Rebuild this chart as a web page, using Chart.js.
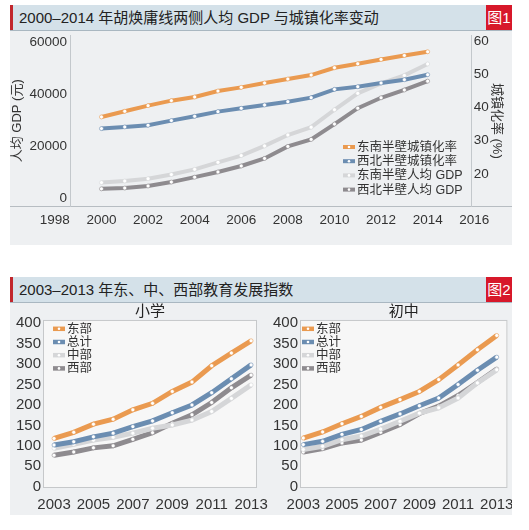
<!DOCTYPE html>
<html>
<head>
<meta charset="utf-8">
<script src="https://cdn.jsdelivr.net/npm/chart.js@4.4.1/dist/chart.umd.min.js"></script>
<style>
  body { margin: 0; background: #fff; font-family: "Liberation Sans", "Noto Sans CJK SC", sans-serif; }
  .panel { position: absolute; left: 10px; width: 502px; background: #eef0f2; }
  .head { position: absolute; left: 0; top: 0; width: 502px; height: 25px; background: #d4e1e9; border-bottom: 1px solid #a9b7c1; }
  .head .bar { position: absolute; left: 0; top: 0; width: 3px; height: 25px; background: #c1272d; }
  .head .t { position: absolute; left: 9px; top: 3px; font-size: 15px; line-height: 19px; color: #222; white-space: nowrap; }
  .head .tag { position: absolute; right: 0; top: 0; width: 26px; height: 25px; background: #d7182a; color: #fff; font-size: 15px; line-height: 25px; text-align: center; }
  canvas { position: absolute; }
</style>
</head>
<body>

<div class="panel" style="top:5px;height:240px;">
  <div class="head"><div class="bar"></div><div class="t">2000–2014 年胡焕庸线两侧人均 GDP 与城镇化率变动</div><div class="tag">图1</div></div>
  <canvas id="c1" style="left:0;top:26px;width:502px;height:214px;"></canvas>
</div>

<div class="panel" style="top:277px;height:238px;">
  <div class="head"><div class="bar"></div><div class="t">2003–2013 年东、中、西部教育发展指数</div><div class="tag">图2</div></div>
  <canvas id="c2" style="left:0;top:26px;width:262px;height:212px;"></canvas>
  <canvas id="c3" style="left:252px;top:26px;width:250px;height:212px;"></canvas>
</div>

<script>
// ---- figure 1 data ----
const years1 = [2000, 2001, 2002, 2003, 2004, 2005, 2006, 2007, 2008, 2009, 2010, 2011, 2012, 2013, 2014];
const yearTicks1 = [1998, 2000, 2002, 2004, 2006, 2008, 2010, 2012, 2014, 2016];
const gdpTicks = [0, 20000, 40000, 60000];
const urbanTicks = [20, 30, 40, 50, 60];
const seUrban = [37.1, 38.8, 40.5, 42.0, 43.1, 44.9, 46.0, 47.3, 48.5, 49.7, 51.9, 53.1, 54.4, 55.6, 56.7];
const nwUrban = [33.6, 34.1, 34.6, 36.0, 37.3, 38.7, 39.7, 40.7, 41.7, 42.9, 45.4, 46.2, 47.3, 48.3, 49.8];
const seGdp = [6000, 6600, 7500, 9100, 11100, 13800, 16400, 20100, 24300, 27300, 34000, 40300, 44100, 47200, 51600];
const nwGdp = [3600, 3900, 4700, 6200, 8100, 10100, 12400, 15300, 19900, 22600, 28500, 34600, 38600, 41600, 45000];

// ---- figure 2 data ----
const years2 = [2003, 2004, 2005, 2006, 2007, 2008, 2009, 2010, 2011, 2012, 2013];
const yearTicks2 = [2003, 2005, 2007, 2009, 2011, 2013];
const indexTicks = [0, 50, 100, 150, 200, 250, 300, 350, 400];
const primEast = [118, 133, 153, 165, 188, 204, 233, 256, 296, 327, 357];
const primTotal = [102, 110, 122, 131, 147, 161, 181, 200, 230, 264, 298];
const primCentral = [94, 104, 114, 121, 131, 143, 151, 163, 184, 216, 249];
const primWest = [77, 85, 95, 100, 116, 132, 155, 176, 206, 242, 273];
const midEast = [119, 134, 154, 172, 194, 213, 233, 262, 298, 335, 370];
const midTotal = [103, 111, 128, 140, 160, 178, 198, 217, 250, 285, 317];
const midCentral = [91, 99, 115, 124, 141, 160, 180, 193, 217, 254, 286];
const midWest = [85, 93, 107, 114, 133, 152, 179, 197, 223, 255, 288];

const ORANGE = '#ea9a50', BLUE = '#6b8db1', LIGHT = '#d5d6d8', DARK = '#8e8b8f';
const FONT = '"Liberation Sans", "Noto Sans CJK SC", sans-serif';

Chart.defaults.font.family = FONT;
Chart.defaults.color = '#333';
Chart.defaults.animation = false;

function pts(xs, ys) { return xs.map((x, i) => ({ x: x, y: ys[i] })); }
function setTicks(arr) { return s => { s.ticks = arr.map(v => ({ value: v })); }; }
function fixW(w) { return s => { s.width = w; s.paddingTop = 0; s.paddingBottom = 0; }; }
function fixH(h) { return s => { s.height = h; s.paddingLeft = 0; s.paddingRight = 0; }; }

function line(label, color, xs, ys, axis, w) {
  return {
    label: label, data: pts(xs, ys), yAxisID: axis,
    borderColor: color, backgroundColor: color, borderWidth: w,
    pointRadius: 2, pointBackgroundColor: '#fff', pointBorderColor: color, pointBorderWidth: 0.6,
    tension: 0
  };
}

// legend drawn inside the plot
const boxLegend = {
  id: 'boxLegend',
  afterDraw(chart, args, o) {
    const ctx = chart.ctx;
    ctx.save();
    ctx.font = o.size + 'px ' + FONT;
    ctx.textBaseline = 'middle';
    chart.data.datasets.forEach((ds, i) => {
      const y = o.y + i * o.step;
      ctx.strokeStyle = ds.borderColor;
      ctx.lineWidth = o.lw;
      ctx.beginPath(); ctx.moveTo(o.x, y); ctx.lineTo(o.x + o.len, y); ctx.stroke();
      ctx.fillStyle = '#fff';
      ctx.beginPath(); ctx.arc(o.x + o.len / 2, y, 1.3, 0, Math.PI * 2); ctx.fill();
      ctx.fillStyle = '#333';
      ctx.fillText(ds.label, o.x + o.len + 2, y + 0.5);
    });
    ctx.restore();
  }
};

// figure 1: baseline across the whole panel
const baseLine = {
  id: 'baseLine',
  beforeDraw(chart) {
    const ctx = chart.ctx, a = chart.chartArea;
    ctx.save();
    ctx.strokeStyle = '#b7bdc2';
    ctx.lineWidth = 1;
    ctx.beginPath(); ctx.moveTo(0, a.bottom + 0.5); ctx.lineTo(chart.width, a.bottom + 0.5); ctx.stroke();
    ctx.restore();
  }
};

// figure 2: light plot box
const plotBox = {
  id: 'plotBox',
  beforeDraw(chart) {
    const ctx = chart.ctx, a = chart.chartArea;
    ctx.save();
    ctx.fillStyle = '#f7f7f7';
    ctx.fillRect(a.left, a.top, a.width, a.height);
    ctx.strokeStyle = '#c6c8ca';
    ctx.lineWidth = 1;
    ctx.strokeRect(a.left + 0.5, a.top + 0.5, a.width - 1, a.height - 1);
    ctx.restore();
  }
};

new Chart(document.getElementById('c1'), {
  type: 'line',
  data: {
    datasets: [
      line('东南半壁城镇化率', ORANGE, years1, seUrban, 'yR', 4),
      line('西北半壁城镇化率', BLUE, years1, nwUrban, 'yR', 4),
      line('东南半壁人均 GDP', LIGHT, years1, seGdp, 'yL', 4),
      line('西北半壁人均 GDP', DARK, years1, nwGdp, 'yL', 4)
    ]
  },
  plugins: [baseLine, boxLegend],
  options: {
    responsive: false,
    layout: { padding: { top: 2, left: 0, right: 0, bottom: 0 } },
    plugins: {
      legend: { display: false },
      tooltip: { enabled: false },
      boxLegend: { x: 333, y: 116, step: 14.2, len: 12, lw: 4, size: 12.5 }
    },
    scales: {
      x: {
        type: 'linear', min: 1998.65, max: 2015.89,
        afterBuildTicks: setTicks(yearTicks1), afterFit: fixH(39),
        grid: { display: false, drawTicks: false }, border: { display: false },
        ticks: { autoSkip: false, padding: 6, font: { size: 13.5 }, color: '#333', callback: v => String(v) }
      },
      yL: {
        position: 'left', min: -2990, max: 62500,
        afterBuildTicks: setTicks(gdpTicks), afterFit: fixW(60),
        grid: { display: false, drawTicks: false }, border: { color: '#c3c8cc' },
        ticks: { padding: 3, font: { size: 13.5 }, color: '#333', callback: v => String(v) },
        title: { display: true, text: '人均 GDP (元)', font: { size: 13 }, color: '#333', padding: 0 }
      },
      yR: {
        position: 'right', min: 10.31, max: 61.57,
        afterBuildTicks: setTicks(urbanTicks), afterFit: fixW(40.3),
        grid: { display: false, drawTicks: false }, border: { color: '#c3c8cc' },
        ticks: { padding: 2, font: { size: 13.5 }, color: '#333', callback: v => String(v) },
        title: { display: true, text: '城镇化率 (%)', font: { size: 13 }, color: '#333', padding: { top: 8, bottom: 0 } }
      }
    }
  }
});

function eduChart(id, title, east, total, central, west, xmin, xmax, yAxisW, padRight, legendX) {
  return new Chart(document.getElementById(id), {
    type: 'line',
    data: {
      datasets: [
        line('东部', ORANGE, years2, east, 'y', 5),
        line('总计', BLUE, years2, total, 'y', 5),
        line('中部', LIGHT, years2, central, 'y', 5),
        line('西部', DARK, years2, west, 'y', 5)
      ]
    },
    plugins: [plotBox, boxLegend],
    options: {
      responsive: false,
      layout: { padding: { top: 0, left: 0, right: padRight, bottom: 0 } },
      plugins: {
        legend: { display: false },
        tooltip: { enabled: false },
        title: { display: true, text: title, fullSize: false, font: { size: 15, weight: 'normal', lineHeight: 1.13 }, color: '#222', padding: 0 },
        boxLegend: { x: legendX, y: 25.8, step: 13.2, len: 12, lw: 4.5, size: 12.5 }
      },
      scales: {
        x: {
          type: 'linear', min: xmin, max: xmax,
          afterBuildTicks: setTicks(yearTicks2), afterFit: fixH(27),
          grid: { display: false, drawTicks: false }, border: { display: false },
          ticks: { autoSkip: false, padding: 8, font: { size: 15 }, color: '#333', callback: v => String(v) }
        },
        y: {
          min: -3.2, max: 408,
          afterBuildTicks: setTicks(indexTicks), afterFit: fixW(yAxisW),
          grid: { display: false, drawTicks: false }, border: { display: false },
          ticks: { padding: 2, font: { size: 15 }, color: '#333', callback: v => String(v) }
        }
      }
    }
  });
}

eduChart('c2', '小学', primEast, primTotal, primCentral, primWest, 2002.44, 2013.3, 33, 15, 43);
eduChart('c3', '初中', midEast, midTotal, midCentral, midWest, 2002.83, 2013.55, 38, 3, 40);
</script>
</body>
</html>
